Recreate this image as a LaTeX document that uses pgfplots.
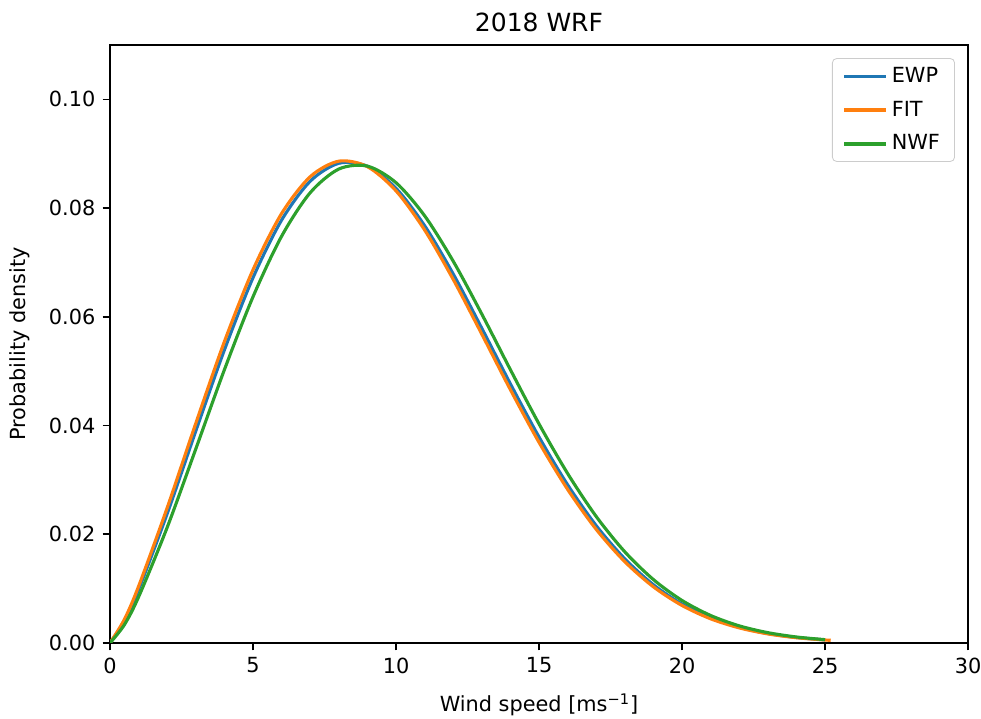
\documentclass[border=0pt]{standalone}
\usepackage{fontspec}
\setmainfont{DejaVu Sans}
\usepackage{pgfplots}
\usepackage{pgfplotstable}
\pgfplotsset{compat=1.18}
\definecolor{tabblue}{HTML}{1F77B4}
\definecolor{taborange}{HTML}{FF7F0E}
\definecolor{tabgreen}{HTML}{2CA02C}

\pgfplotstableread{
x y
0 0
0.5 0.00400
1 0.00982
2 0.02379
3 0.03900
4 0.05391
5 0.06719
6 0.07779
7 0.08494
8 0.08824
9 0.08769
10 0.08364
11 0.07676
12 0.06788
13 0.05789
14 0.04766
15 0.03789
16 0.02910
17 0.02158
18 0.01547
19 0.01071
20 0.00716
21 0.00463
22 0.00289
23 0.00174
24 0.00101
25 0.00057
}\ewp

\pgfplotstableread{
x y
0 0
0.5 0.00431
1 0.01043
2 0.02488
3 0.04041
4 0.05544
5 0.06865
6 0.07900
7 0.08577
8 0.08863
9 0.08762
10 0.08317
11 0.07597
12 0.06688
13 0.05681
14 0.04659
15 0.03691
16 0.02826
17 0.02090
18 0.01495
19 0.01033
20 0.00690
21 0.00445
22 0.00278
23 0.00167
24 0.00097
25 0.00055
25.2 0.00049
}\fit

\pgfplotstableread{
x y
0 0
0.5 0.00333
1 0.00847
2 0.02127
3 0.03570
4 0.05027
5 0.06368
6 0.07482
7 0.08283
8 0.08718
9 0.08772
10 0.08467
11 0.07859
12 0.07023
13 0.06050
14 0.05027
15 0.04030
16 0.03118
17 0.02327
18 0.01677
19 0.01166
20 0.00782
21 0.00506
22 0.00315
23 0.00190
24 0.00110
25 0.00061
}\nwf

\begin{document}
\begin{tikzpicture}
\begin{axis}[
  scale only axis,
  width=411.8pt, height=287.0pt,
  xmin=0, xmax=30, ymin=0, ymax=0.11,
  xtick={0,5,10,15,20,25,30},
  ytick={0,0.02,0.04,0.06,0.08,0.10},
  scaled y ticks=false,
  /pgf/number format/assume math mode=true,
  yticklabel style={/pgf/number format/fixed, /pgf/number format/precision=2, /pgf/number format/fixed zerofill},
  tick align=outside,
  tick pos=left,
  major tick length=3.5pt,
  axis line style={line width=0.8pt},
  every tick/.style={black, line width=0.8pt},
  tick label style={font=\fontsize{10}{12}\selectfont},
  label style={font=\fontsize{10}{12}\selectfont},
  title={2018 WRF},
  title style={font=\fontsize{12}{14}\selectfont, at={(axis description cs:0.5,1.0385)}, anchor=center, yshift=-6pt},
  xlabel={Wind speed [ms\textsuperscript{−1}]},
  xlabel style={at={(axis description cs:0.5,-0.1037)}, anchor=center},
  ylabel={Probability density},
  ylabel style={at={(axis description cs:-0.1049,0.5)}, anchor=center},
  legend cell align=left,
  legend image code/.code={\draw[#1] (0pt,0pt) -- (20pt,0pt);},
  legend style={at={(axis description cs:0.9848,0.978)}, anchor=north east,
    draw=black!20, rounded corners=2pt, font=\fontsize{10}{12}\selectfont,
    row sep=3.5pt, inner xsep=5pt, inner ysep=2pt},
]
\addplot[color=tabblue, line width=1.5pt, smooth] table[x=x,y=y] {\ewp};
\addlegendentry{EWP}
\addplot[color=taborange, line width=1.5pt, smooth] table[x=x,y=y] {\fit};
\addlegendentry{FIT}
\addplot[color=tabgreen, line width=1.5pt, smooth] table[x=x,y=y] {\nwf};
\addlegendentry{NWF}
\end{axis}
\pgfresetboundingbox
\path ([shift={(-52.8pt,-36.48pt)}]current axis.south west) rectangle ([shift={(6.24pt,21.6pt)}]current axis.north east);
\end{tikzpicture}
\end{document}
